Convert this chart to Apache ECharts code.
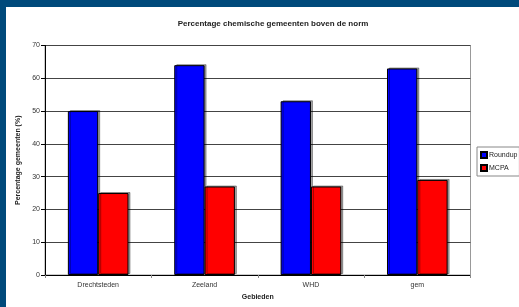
<!DOCTYPE html>
<html><head><meta charset="utf-8">
<script src="https://cdn.jsdelivr.net/npm/echarts@6/dist/echarts.min.js"></script>
<style>html,body{margin:0;padding:0;background:#004a7b}#c{width:519px;height:307px}</style>
</head><body><div id="c"></div>
<script>
var categories = ['Drechtsteden', 'Zeeland', 'WHD', 'gem'];
var roundup = [50, 64, 53, 63];
var mcpa = [25, 27, 27, 29];
var yTicks = [0, 10, 20, 30, 40, 50, 60, 70];

var chart = echarts.init(document.getElementById('c'), null, {renderer: 'canvas'});
var font = 'Liberation Sans, Arial, sans-serif';
var barStyle = function (c) {
  return {color: c, borderColor: '#000', borderWidth: 1,
    shadowColor: 'rgba(0,0,0,0.35)', shadowOffsetX: 2, shadowOffsetY: -1, shadowBlur: 0};
};
chart.setOption({
  backgroundColor: '#004a7b',
  animation: false,
  graphic: [{type: 'rect', z: -10, shape: {x: 6, y: 7, width: 513, height: 300}, style: {fill: '#fff'}}],
  title: {text: 'Percentage chemische gemeenten boven de norm', left: 268, top: 15, textAlign: 'center',
    textStyle: {fontFamily: font, fontSize: 8, fontWeight: 'bold', color: '#222'}},
  legend: {orient: 'vertical', left: 477, top: 147, itemWidth: 6, itemHeight: 6, itemGap: 5,
    padding: [4, 2, 4, 3], borderColor: '#888', borderWidth: 1, backgroundColor: '#fff',
    textStyle: {fontFamily: font, fontSize: 7, color: '#222', padding: [0, 0, 0, -3]},
    data: [{name: 'Roundup', icon: 'rect'}, {name: 'MCPA', icon: 'rect'}]},
  grid: {left: 45, right: 48.5, top: 45.5, bottom: 32, show: true, borderColor: '#999', borderWidth: 1, backgroundColor: 'transparent'},
  xAxis: {type: 'category', data: categories, name: 'Gebieden', nameLocation: 'middle', nameGap: 17,
    nameTextStyle: {fontFamily: font, fontSize: 7, fontWeight: 'bold', color: '#222'},
    axisLine: {lineStyle: {color: '#000', width: 1}},
    axisTick: {show: true, length: 3, lineStyle: {color: '#888'}},
    axisLabel: {fontFamily: font, fontSize: 7, color: '#333', margin: 7}},
  yAxis: {type: 'value', min: yTicks[0], max: yTicks[yTicks.length - 1], interval: 10,
    name: 'Percentage gemeenten (%)', nameLocation: 'middle', nameGap: 22,
    nameTextStyle: {fontFamily: font, fontSize: 7, fontWeight: 'bold', color: '#222'},
    axisLine: {show: true, lineStyle: {color: '#000', width: 1}},
    axisTick: {show: true, length: 4, lineStyle: {color: '#000'}},
    splitLine: {lineStyle: {color: '#444', width: 1}},
    axisLabel: {fontFamily: font, fontSize: 7, color: '#333', margin: 5}},
  series: [
    {name: 'Roundup', type: 'bar', data: roundup, barGap: '0%', barCategoryGap: '43%', itemStyle: barStyle('#0000ff')},
    {name: 'MCPA', type: 'bar', data: mcpa, itemStyle: barStyle('#ff0000')}
  ]
});
</script></body></html>
